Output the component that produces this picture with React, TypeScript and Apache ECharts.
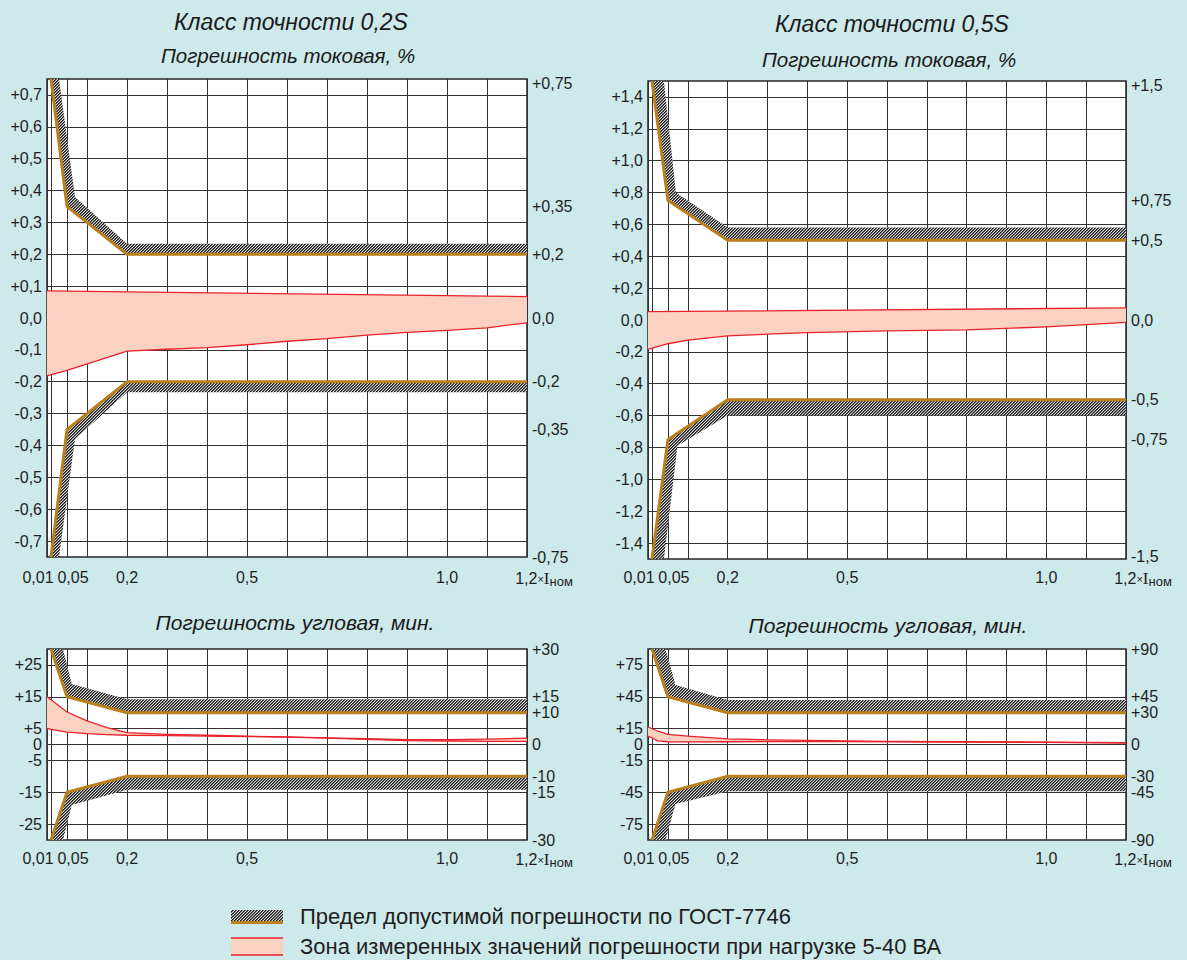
import React, { useEffect, useRef } from "react";
import * as echarts from "echarts";

// ---------- shared x axis ----------
const xGridValues = [0, 0.01, 0.05, 0.1, 0.2, 0.3, 0.4, 0.5, 0.6, 0.7, 0.8, 0.9, 1.0, 1.1, 1.2];
const xLabelValues = [0.01, 0.05, 0.2, 0.5, 1.0, 1.2];
const xLabelTexts = ["{a|0,01}", "{b|0,05}", "0,2", "0,5", "1,0", "{c|1,2}{m|×}{i|I}{s|ном}"];

// ---------- panel 1: class 0,2S current error, % ----------
const p1LeftValues = [0.7, 0.6, 0.5, 0.4, 0.3, 0.2, 0.1, 0, -0.1, -0.2, -0.3, -0.4, -0.5, -0.6, -0.7];
const p1LeftTexts = ["+0,7", "+0,6", "+0,5", "+0,4", "+0,3", "+0,2", "+0,1", "0,0", "-0,1", "-0,2", "-0,3", "-0,4", "-0,5", "-0,6", "-0,7"];
const p1RightValues = [0.75, 0.35, 0.2, 0, -0.2, -0.35, -0.75];
const p1RightTexts = ["{t|+0,75}", "+0,35", "+0,2", "0,0", "-0,2", "-0,35", "-0,75"];
const p1LimitX = [0.01, 0.05, 0.2, 1.2];
const p1LimitUp = [0.75, 0.35, 0.2, 0.2];
const p1LimitDown = [-0.75, -0.35, -0.2, -0.2];
const p1HatchX = [0.03, 0.07, 0.2, 1.2];
const p1HatchUp = [0.75, 0.38, 0.233, 0.233];
const p1HatchDown = [-0.75, -0.38, -0.233, -0.233];
const p1ZoneUpX = [0, 0.2, 1.2];
const p1ZoneUp = [0.085, 0.082, 0.067];
const p1ZoneLowX = [0, 0.05, 0.2, 0.3, 0.4, 0.5, 0.6, 0.7, 0.8, 0.9, 1.0, 1.1, 1.2];
const p1ZoneLow = [-0.182, -0.164, -0.104, -0.098, -0.093, -0.084, -0.073, -0.065, -0.054, -0.045, -0.039, -0.031, -0.015];

// ---------- panel 2: class 0,5S current error, % ----------
const p2LeftValues = [1.4, 1.2, 1.0, 0.8, 0.6, 0.4, 0.2, 0, -0.2, -0.4, -0.6, -0.8, -1.0, -1.2, -1.4];
const p2LeftTexts = ["+1,4", "+1,2", "+1,0", "+0,8", "+0,6", "+0,4", "+0,2", "0,0", "-0,2", "-0,4", "-0,6", "-0,8", "-1,0", "-1,2", "-1,4"];
const p2RightValues = [1.5, 0.75, 0.5, 0, -0.5, -0.75, -1.5];
const p2RightTexts = ["{t|+1,5}", "+0,75", "+0,5", "0,0", "-0,5", "-0,75", "{u|-1,5}"];
const p2LimitX = [0.01, 0.05, 0.2, 1.2];
const p2LimitUp = [1.5, 0.75, 0.5, 0.5];
const p2LimitDown = [-1.5, -0.75, -0.5, -0.5];
const p2HatchUpX = [0.04, 0.07, 0.2, 1.2];
const p2HatchUp = [1.5, 0.8, 0.58, 0.58];
const p2HatchDownX = [0.04, 0.074, 0.2, 1.2];
const p2HatchDown = [-1.5, -0.79, -0.6, -0.6];
const p2ZoneUpX = [0, 1.2];
const p2ZoneUp = [0.052, 0.076];
const p2ZoneLowX = [0, 0.05, 0.1, 0.2, 0.3, 0.4, 0.6, 0.8, 1.0, 1.2];
const p2ZoneLow = [-0.185, -0.149, -0.126, -0.1, -0.089, -0.079, -0.068, -0.062, -0.043, -0.015];

// ---------- panel 3: class 0,2S angular error, min ----------
const p3LeftValues = [25, 15, 5, 0, -5, -15, -25];
const p3LeftTexts = ["+25", "+15", "+5", "0", "-5", "-15", "-25"];
const p3RightValues = [30, 15, 10, 0, -10, -15, -30];
const p3RightTexts = ["+30", "+15", "+10", "0", "-10", "-15", "-30"];
const p3LimitX = [0.01, 0.05, 0.2, 1.2];
const p3LimitUp = [30, 15, 10, 10];
const p3LimitDown = [-30, -15, -10, -10];
const p3HatchX = [0.04, 0.062, 0.2, 1.2];
const p3HatchUp = [30, 19, 14.2, 14.2];
const p3HatchDown = [-30, -19, -14.2, -14.2];
const p3ZoneX = [0, 0.05, 0.1, 0.15, 0.2, 0.3, 0.4, 0.5, 0.6, 0.7, 0.8, 0.9, 1.0, 1.1, 1.2];
const p3ZoneUp = [15, 10.2, 7.4, 5.3, 3.7, 3.2, 2.9, 2.6, 2.4, 2.1, 1.8, 1.5, 1.5, 1.7, 2.0];
const p3ZoneLow = [5, 3.9, 3.4, 3.1, 2.9, 2.8, 2.6, 2.5, 2.3, 2.0, 1.6, 1.2, 1.1, 1.0, 1.0];

// ---------- panel 4: class 0,5S angular error, min ----------
const p4LeftValues = [75, 45, 15, 0, -15, -45, -75];
const p4LeftTexts = ["+75", "+45", "+15", "0", "-15", "-45", "-75"];
const p4RightValues = [90, 45, 30, 0, -30, -45, -90];
const p4RightTexts = ["+90", "+45", "+30", "0", "-30", "-45", "-90"];
const p4LimitX = [0.01, 0.05, 0.2, 1.2];
const p4LimitUp = [90, 45, 30, 30];
const p4LimitDown = [-90, -45, -30, -30];
const p4HatchX = [0.044, 0.069, 0.2, 1.2];
const p4HatchUp = [90, 56, 42, 42];
const p4HatchDown = [-90, -56, -44, -44];
const p4ZoneX = [0, 0.025, 0.05, 0.1, 0.2, 0.3, 0.4, 0.5, 0.6, 0.8, 1.0, 1.2];
const p4ZoneUp = [16.5, 12.5, 9.5, 7.8, 5.3, 4.4, 3.8, 3.4, 3.0, 2.6, 2.2, 1.8];
const p4ZoneLow = [8, 3.5, 2.6, 2.4, 2.6, 2.7, 2.7, 2.7, 2.6, 2.3, 2.0, 1.4];

// ---------- texts ----------
const titles = [
  { text: "Класс точности 0,2S", x: 291, y: 22, size: 23 },
  { text: "Погрешность токовая, %", x: 288, y: 55, size: 20.5 },
  { text: "Класс точности 0,5S", x: 892, y: 24, size: 23 },
  { text: "Погрешность токовая, %", x: 889, y: 59, size: 20.5 },
  { text: "Погрешность угловая, мин.", x: 295, y: 622, size: 21 },
  { text: "Погрешность угловая, мин.", x: 888, y: 625, size: 21 },
];
const legendTexts = [
  "Предел допустимой погрешности по ГОСТ-7746",
  "Зона измеренных значений погрешности при нагрузке 5-40 ВА",
];

const BG = "#cde9ea";
const BROWN = "#b9801e";
const RED = "#e8212b";
const PINK = "#fbd2c2";
const GRIDC = "#333333";
const LABEL_FONT = "Liberation Sans";

function makeHatch() {
  const c = document.createElement("canvas");
  c.width = 3;
  c.height = 3;
  const ctx = c.getContext("2d")!;
  ctx.fillStyle = "#d4d4d4";
  ctx.fillRect(0, 0, 3, 3);
  for (let y = 0; y < 3; y++) {
    ctx.fillStyle = "#1c1c1c";
    ctx.fillRect((2 - y + 3) % 3, y, 1, 1);
    ctx.fillStyle = "#666666";
    ctx.fillRect((3 - y + 3) % 3, y, 1, 1);
  }
  return { image: c, repeat: "repeat", imageWidth: 3, imageHeight: 3 };
}

function lookup(vals: number[], texts: string[], v: number) {
  for (let i = 0; i < vals.length; i++) if (Math.abs(vals[i] - v) < 1e-9) return texts[i];
  return "";
}

function pairs(xs: number[], ys: number[]) {
  return xs.map((x, i) => [x, ys[i]]);
}

function polygon(gi: number, xs1: number[], ys1: number[], xs2: number[], ys2: number[], fill: any, z: number) {
  return {
    type: "custom",
    coordinateSystem: "cartesian2d",
    xAxisIndex: gi,
    yAxisIndex: gi * 2,
    data: [[xs1[0], ys1[0]]],
    z,
    silent: true,
    clip: true,
    renderItem: (_p: any, api: any) => {
      const pts: number[][] = [];
      for (let i = 0; i < xs1.length; i++) pts.push(api.coord([xs1[i], ys1[i]]));
      for (let i = xs2.length - 1; i >= 0; i--) pts.push(api.coord([xs2[i], ys2[i]]));
      return { type: "polygon", shape: { points: pts }, style: { fill, stroke: null } };
    },
  };
}

function line(gi: number, xs: number[], ys: number[], color: string, width: number, z: number) {
  return {
    type: "line",
    xAxisIndex: gi,
    yAxisIndex: gi * 2,
    data: pairs(xs, ys),
    symbol: "none",
    silent: true,
    z,
    lineStyle: { color, width, join: "miter" },
  };
}

type Panel = {
  rect: { left: number; top: number; width: number; height: number };
  min: number;
  max: number;
  leftV: number[];
  leftT: string[];
  rightV: number[];
  rightT: string[];
  xMargin: number;
  limX: number[];
  limUp: number[];
  limDown: number[];
  hUpX: number[];
  hUp: number[];
  hDownX: number[];
  hDown: number[];
  zUpX: number[];
  zUp: number[];
  zLowX: number[];
  zLow: number[];
};

const panels: Panel[] = [
  {
    rect: { left: 47, top: 79, width: 480, height: 478 }, min: -0.75, max: 0.75,
    leftV: p1LeftValues, leftT: p1LeftTexts, rightV: p1RightValues, rightT: p1RightTexts, xMargin: 12,
    limX: p1LimitX, limUp: p1LimitUp, limDown: p1LimitDown,
    hUpX: p1HatchX, hUp: p1HatchUp, hDownX: p1HatchX, hDown: p1HatchDown,
    zUpX: p1ZoneUpX, zUp: p1ZoneUp, zLowX: p1ZoneLowX, zLow: p1ZoneLow,
  },
  {
    rect: { left: 648, top: 81, width: 478, height: 478 }, min: -1.5, max: 1.5,
    leftV: p2LeftValues, leftT: p2LeftTexts, rightV: p2RightValues, rightT: p2RightTexts, xMargin: 10,
    limX: p2LimitX, limUp: p2LimitUp, limDown: p2LimitDown,
    hUpX: p2HatchUpX, hUp: p2HatchUp, hDownX: p2HatchDownX, hDown: p2HatchDown,
    zUpX: p2ZoneUpX, zUp: p2ZoneUp, zLowX: p2ZoneLowX, zLow: p2ZoneLow,
  },
  {
    rect: { left: 47, top: 649, width: 480, height: 191 }, min: -30, max: 30,
    leftV: p3LeftValues, leftT: p3LeftTexts, rightV: p3RightValues, rightT: p3RightTexts, xMargin: 10,
    limX: p3LimitX, limUp: p3LimitUp, limDown: p3LimitDown,
    hUpX: p3HatchX, hUp: p3HatchUp, hDownX: p3HatchX, hDown: p3HatchDown,
    zUpX: p3ZoneX, zUp: p3ZoneUp, zLowX: p3ZoneX, zLow: p3ZoneLow,
  },
  {
    rect: { left: 648, top: 649, width: 478, height: 191 }, min: -90, max: 90,
    leftV: p4LeftValues, leftT: p4LeftTexts, rightV: p4RightValues, rightT: p4RightTexts, xMargin: 10,
    limX: p4LimitX, limUp: p4LimitUp, limDown: p4LimitDown,
    hUpX: p4HatchX, hUp: p4HatchUp, hDownX: p4HatchX, hDown: p4HatchDown,
    zUpX: p4ZoneX, zUp: p4ZoneUp, zLowX: p4ZoneX, zLow: p4ZoneLow,
  },
];

function buildOption() {
  const hatch = makeHatch();
  const grids: any[] = [];
  const xAxes: any[] = [];
  const yAxes: any[] = [];
  const series: any[] = [];
  const labelStyle = { color: "#1e1e1e", fontSize: 16, fontFamily: LABEL_FONT };

  panels.forEach((p, gi) => {
    grids.push({
      ...p.rect,
      show: true,
      backgroundColor: "#ffffff",
      borderColor: "#262626",
      borderWidth: 1.5,
      containLabel: false,
      outerBoundsMode: "none",
    });
    xAxes.push({
      type: "value",
      gridIndex: gi,
      min: 0,
      max: 1.2,
      axisLine: { show: false },
      axisTick: { show: false, customValues: xGridValues },
      splitLine: { show: true, lineStyle: { color: GRIDC, width: 1 } },
      axisLabel: {
        ...labelStyle,
        margin: p.xMargin,
        customValues: xLabelValues,
        formatter: (v: number) => lookup(xLabelValues, xLabelTexts, v),
        rich: {
          a: { ...labelStyle, padding: [0, 26, 0, 0] },
          b: { ...labelStyle, padding: [0, 0, 0, 12] },
          c: { ...labelStyle, padding: [0, 0, 0, 34] },
          m: { ...labelStyle, fontSize: 11 },
          i: { ...labelStyle, fontFamily: "Liberation Serif", fontSize: 17 },
          s: { ...labelStyle, fontSize: 13, padding: [6, 0, 0, 0] },
        },
      },
    });
    yAxes.push({
      type: "value",
      gridIndex: gi,
      position: "left",
      min: p.min,
      max: p.max,
      axisLine: { show: false },
      axisTick: { show: false, customValues: p.leftV },
      splitLine: { show: true, lineStyle: { color: GRIDC, width: 1 } },
      axisLabel: {
        ...labelStyle,
        margin: 5,
        customValues: p.leftV,
        formatter: (v: number) => lookup(p.leftV, p.leftT, v),
      },
    });
    yAxes.push({
      type: "value",
      gridIndex: gi,
      position: "right",
      min: p.min,
      max: p.max,
      axisLine: { show: false },
      axisTick: { show: false, customValues: p.rightV },
      splitLine: { show: false },
      axisLabel: {
        ...labelStyle,
        margin: 5,
        customValues: p.rightV,
        formatter: (v: number) => lookup(p.rightV, p.rightT, v),
        rich: {
          t: { ...labelStyle, padding: [8, 0, 0, 0] },
          u: { ...labelStyle, padding: [0, 0, 6, 0] },
        },
      },
    });

    // measured zone
    series.push(polygon(gi, p.zUpX, p.zUp, p.zLowX, p.zLow, PINK, 2));
    series.push(line(gi, p.zUpX, p.zUp, RED, 1.3, 4));
    series.push(line(gi, p.zLowX, p.zLow, RED, 1.3, 4));
    // limit bands
    series.push(polygon(gi, p.limX, p.limUp, p.hUpX, p.hUp, hatch, 3));
    series.push(polygon(gi, p.limX, p.limDown, p.hDownX, p.hDown, hatch, 3));
    series.push(line(gi, p.limX, p.limUp, BROWN, 3, 5));
    series.push(line(gi, p.limX, p.limDown, BROWN, 3, 5));
  });

  const graphic: any[] = titles.map((t) => ({
    type: "text",
    x: t.x,
    y: t.y,
    style: {
      text: t.text,
      fill: "#1a1a1a",
      fontSize: t.size,
      fontStyle: "italic",
      fontFamily: LABEL_FONT,
      align: "center",
      verticalAlign: "middle",
    },
  }));

  // legend
  graphic.push(
    { type: "rect", shape: { x: 231, y: 910, width: 52, height: 12 }, style: { fill: hatch } },
    { type: "line", shape: { x1: 231, y1: 922.5, x2: 283, y2: 922.5 }, style: { stroke: BROWN, lineWidth: 3 } },
    { type: "rect", shape: { x: 231, y: 938, width: 52, height: 17 }, style: { fill: PINK } },
    { type: "line", shape: { x1: 231, y1: 938, x2: 283, y2: 938 }, style: { stroke: RED, lineWidth: 1.5 } },
    { type: "line", shape: { x1: 231, y1: 955, x2: 283, y2: 955 }, style: { stroke: RED, lineWidth: 1.5 } },
    {
      type: "text", x: 300, y: 916,
      style: { text: legendTexts[0], fill: "#1e1e1e", fontSize: 22, fontFamily: LABEL_FONT, verticalAlign: "middle" },
    },
    {
      type: "text", x: 300, y: 946,
      style: { text: legendTexts[1], fill: "#1e1e1e", fontSize: 22, fontFamily: LABEL_FONT, verticalAlign: "middle" },
    }
  );

  return {
    animation: false,
    backgroundColor: BG,
    grid: grids,
    xAxis: xAxes,
    yAxis: yAxes,
    series,
    graphic,
  };
}

export default function App() {
  const ref = useRef<HTMLDivElement>(null);
  useEffect(() => {
    if (!ref.current) return;
    const chart = echarts.init(ref.current, null, { renderer: "svg" });
    chart.setOption(buildOption() as any);
    return () => chart.dispose();
  }, []);
  return (
    <div
      ref={ref}
      style={{ position: "fixed", left: 0, top: 0, width: 1187, height: 960 }}
    />
  );
}
